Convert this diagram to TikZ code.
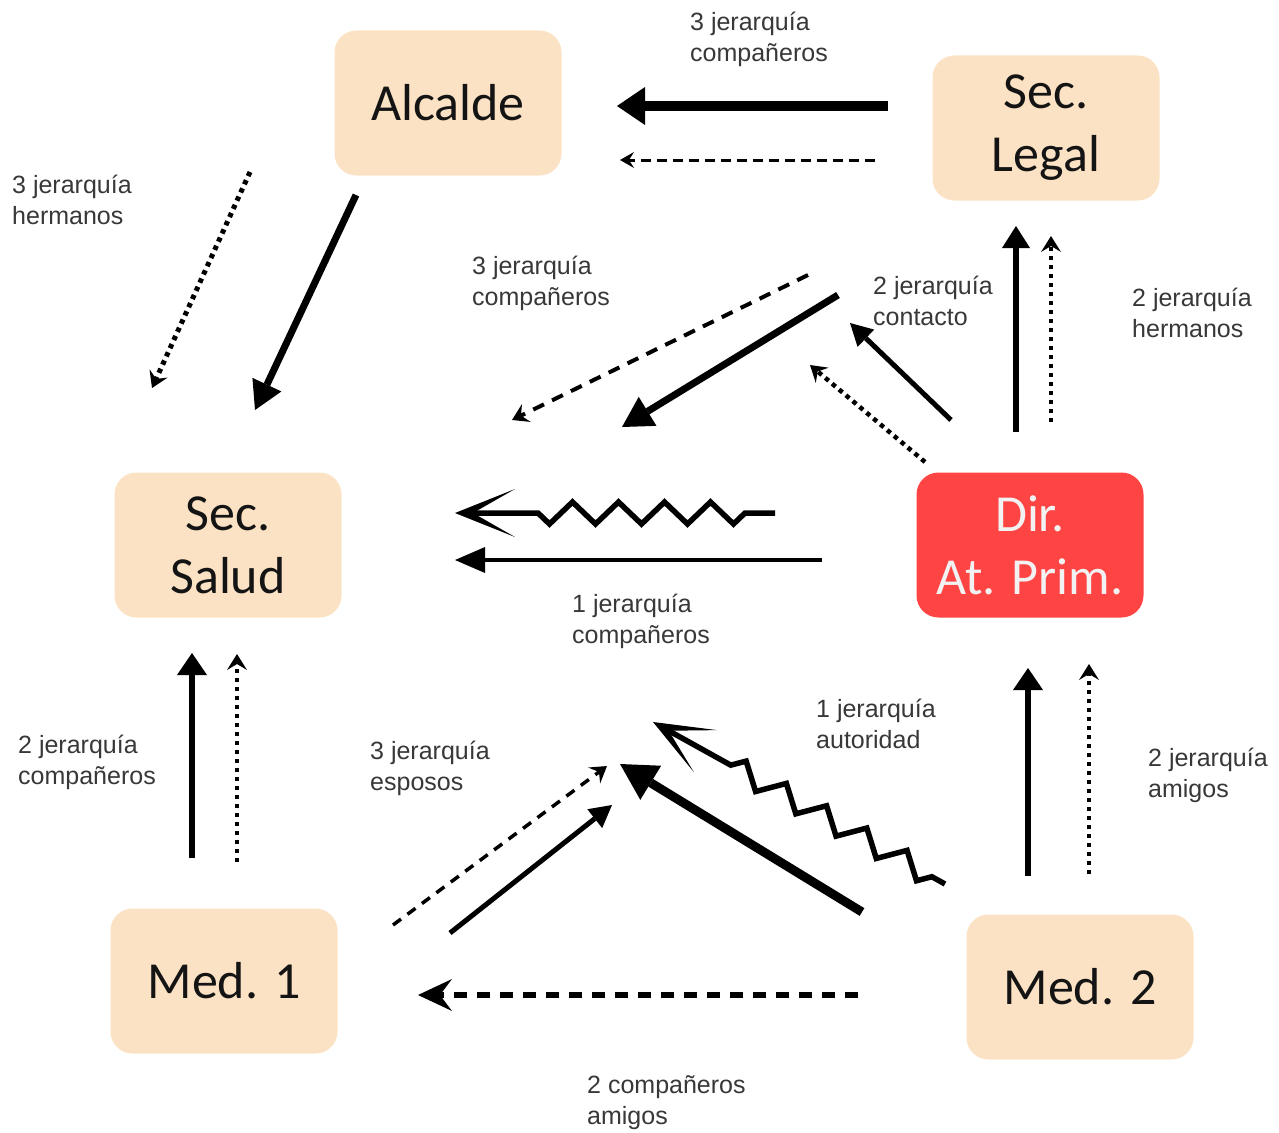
\documentclass[tikz,border=0pt]{standalone}
\usepackage{fontspec}
\setmainfont{Liberation Sans}
\newfontfamily\boxfont{Carlito}
\usetikzlibrary{arrows.meta,decorations.pathmorphing}
\definecolor{peach}{HTML}{FCE2C4}
\definecolor{redbox}{HTML}{FF4444}
\definecolor{lbl}{HTML}{383838}
\begin{document}
\begin{tikzpicture}[x=1pt,y=-1pt,
  box/.style={rounded corners=22pt, minimum width=227pt, minimum height=145pt, fill=peach,
    font=\boxfont\fontsize{52}{63}\selectfont, align=center, inner sep=0pt, text=black!92},
  redb/.style={box, fill=redbox, text=white!95!black},
  lab/.style={anchor=north west, align=left, inner sep=0pt, font=\fontsize{25}{31}\selectfont, text=lbl},
  solid arrow/.style args={#1/#2/#3}{line width=#1pt, -{Triangle[length=#2pt,width=#3pt,line width=0pt]}},
  small head/.style={-{Stealth[length=16pt,width=20pt,inset=6pt,line width=0pt]}},
  dotline/.style={line width=#1pt, dash pattern=on 4.5pt off 4.5pt, small head},
  zig/.style={line width=5.5pt, line join=miter, decorate,
    decoration={zigzag, segment length=46pt, amplitude=11pt, pre length=#1pt, post length=72pt},
    -{Stealth[length=60pt,width=48pt,inset=42pt,line width=0pt]}}
]
\useasboundingbox (0,0) rectangle (1279,1132);
\fill[white] (0,0) rectangle (1279,1132);

% boxes
\node[box] (alc) at (448,103) {Alcalde};
\node[box] (leg) at (1046,128) {Sec.\\Legal};
\node[box] (sal) at (228,545) {Sec.\\Salud};
\node[redb] (dir) at (1030,545) {Dir.\\At. Prim.};
\node[box] (m1) at (224,981) {Med. 1};
\node[box] (m2) at (1080,987) {Med. 2};

% connector end points
\coordinate (a1s) at (888,106);  \coordinate (a1e) at (617,106);
\coordinate (a2s) at (875,160);  \coordinate (a2e) at (620,160);
\coordinate (b1s) at (356,195);  \coordinate (b1e) at (255,410);
\coordinate (b2s) at (250,172);  \coordinate (b2e) at (152,388);
\coordinate (c1s) at (1016,432); \coordinate (c1e) at (1016,226);
\coordinate (c2s) at (1051,422); \coordinate (c2e) at (1051,236);
\coordinate (d1s) at (951,420);  \coordinate (d1e) at (850,323);
\coordinate (d2s) at (925,462);  \coordinate (d2e) at (810,365);
\coordinate (e1s) at (838,295);  \coordinate (e1e) at (622,427);
\coordinate (e2s) at (808,275);  \coordinate (e2e) at (512,420);
\coordinate (f1s) at (775,513);  \coordinate (f1e) at (455,513);
\coordinate (f2s) at (822,560);  \coordinate (f2e) at (455,560);
\coordinate (g1s) at (192,858);  \coordinate (g1e) at (192,653);
\coordinate (g2s) at (237,862);  \coordinate (g2e) at (237,654);
\coordinate (h1s) at (1028,876); \coordinate (h1e) at (1028,668);
\coordinate (h2s) at (1089,874); \coordinate (h2e) at (1089,664);
\coordinate (i1s) at (450,933);  \coordinate (i1e) at (612,805);
\coordinate (i2s) at (393,925);  \coordinate (i2e) at (607,766);
\coordinate (j1s) at (862,912);  \coordinate (j1e) at (620,764);
\coordinate (j2s) at (945,884);  \coordinate (j2e) at (653,722);
\coordinate (k1s) at (858,995);  \coordinate (k1e) at (418,995);

% Sec. Legal -> Alcalde
\draw[solid arrow=10/28/38] (a1s) -- (a1e);
\draw[line width=3pt, dash pattern=on 10pt off 6pt, -{Stealth[length=14pt,width=16pt,inset=5pt,line width=0pt]}] (a2s) -- (a2e);
% Alcalde -> Sec. Salud
\draw[solid arrow=7/28/32] (b1s) -- (b1e);
\draw[dotline=5] (b2s) -- (b2e);
% Dir -> Sec. Legal
\draw[solid arrow=6/22/28] (c1s) -- (c1e);
\draw[dotline=4.5] (c2s) -- (c2e);
% contacto
\draw[solid arrow=5/22/24] (d1s) -- (d1e);
\draw[dotline=4.5] (d2s) -- (d2e);
% 3 jerarquia companeros (diagonal)
\draw[solid arrow=7/30/34] (e1s) -- (e1e);
\draw[line width=4pt, dash pattern=on 12pt off 9pt, small head] (e2s) -- (e2e);
% Dir -> Sec. Salud
\draw[zig=30] (f1s) -- (f1e);
\draw[solid arrow=4/30/26] (f2s) -- (f2e);
% Med 1 -> Sec. Salud
\draw[solid arrow=6/22/30] (g1s) -- (g1e);
\draw[dotline=4.5] (g2s) -- (g2e);
% Med 2 -> Dir
\draw[solid arrow=6/22/30] (h1s) -- (h1e);
\draw[dotline=4.5] (h2s) -- (h2e);
% Med 1 diagonal
\draw[solid arrow=5/22/24] (i1s) -- (i1e);
\draw[line width=3.5pt, dash pattern=on 10pt off 8pt, small head] (i2s) -- (i2e);
% Med 2 diagonal
\draw[solid arrow=9/36/40] (j1s) -- (j1e);
\draw[zig=15] (j2s) -- (j2e);
% Med 2 -> Med 1
\draw[line width=6pt, dash pattern=on 13pt off 10pt, -{Stealth[length=34pt,width=32pt,inset=12pt,line width=0pt]}] (k1s) -- (k1e);

% labels
\node[lab] (l1) at (690,12) {3 jerarquía\\compañeros};
\node[lab] (l2) at (12,175) {3 jerarquía\\hermanos};
\node[lab] (l3) at (472,256) {3 jerarquía\\compañeros};
\node[lab] (l4) at (873,276) {2 jerarquía\\contacto};
\node[lab] (l5) at (1132,288) {2 jerarquía\\hermanos};
\node[lab] (l6) at (572,594) {1 jerarquía\\compañeros};
\node[lab] (l7) at (816,699) {1 jerarquía\\autoridad};
\node[lab] (l8) at (18,735) {2 jerarquía\\compañeros};
\node[lab] (l9) at (370,741) {3 jerarquía\\esposos};
\node[lab] (l10) at (1148,748) {2 jerarquía\\amigos};
\node[lab] (l11) at (587,1075) {2 compañeros\\amigos};
\end{tikzpicture}
\end{document}
